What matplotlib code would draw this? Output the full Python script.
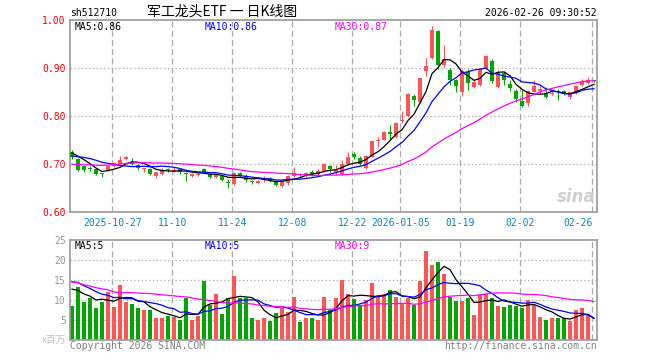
import numpy as np
import pandas as pd
import matplotlib
matplotlib.use('Agg')
import matplotlib.pyplot as plt

# daily candles, 2025-10-16 .. 2026-02-26
open_ = [0.726, 0.710, 0.695, 0.692, 0.689, 0.680, 0.687, 0.696, 0.701, 0.710,
         0.705, 0.697, 0.690, 0.689, 0.674, 0.680, 0.689, 0.686, 0.689, 0.681,
         0.675, 0.677, 0.689, 0.680, 0.672, 0.674, 0.661, 0.658, 0.681, 0.675,
         0.664, 0.660, 0.668, 0.671, 0.665, 0.655, 0.660, 0.675, 0.678, 0.674,
         0.684, 0.679, 0.685, 0.696, 0.684, 0.679, 0.699, 0.721, 0.712, 0.692,
         0.715, 0.748, 0.750, 0.766, 0.756, 0.789, 0.799, 0.842, 0.830, 0.894,
         0.921, 0.978, 0.906, 0.896, 0.874, 0.851, 0.892, 0.861, 0.865, 0.899,
         0.915, 0.860, 0.890, 0.867, 0.853, 0.832, 0.828, 0.851, 0.853, 0.847,
         0.845, 0.851, 0.852, 0.839, 0.847, 0.865, 0.868, 0.875]
high = [0.729, 0.712, 0.697, 0.695, 0.691, 0.682, 0.698, 0.705, 0.717, 0.717,
        0.712, 0.699, 0.692, 0.692, 0.684, 0.692, 0.691, 0.693, 0.691, 0.684,
        0.681, 0.681, 0.692, 0.682, 0.680, 0.677, 0.668, 0.683, 0.684, 0.679,
        0.667, 0.667, 0.675, 0.673, 0.667, 0.667, 0.677, 0.694, 0.681, 0.684,
        0.687, 0.689, 0.703, 0.698, 0.697, 0.709, 0.724, 0.725, 0.716, 0.718,
        0.748, 0.756, 0.768, 0.781, 0.787, 0.810, 0.848, 0.845, 0.880, 0.920,
        0.987, 0.980, 0.947, 0.899, 0.877, 0.898, 0.898, 0.878, 0.899, 0.927,
        0.918, 0.896, 0.893, 0.876, 0.857, 0.855, 0.855, 0.875, 0.862, 0.860,
        0.852, 0.856, 0.855, 0.851, 0.864, 0.877, 0.882, 0.876]
low = [0.710, 0.686, 0.683, 0.686, 0.677, 0.672, 0.685, 0.694, 0.699, 0.708,
       0.697, 0.688, 0.683, 0.677, 0.671, 0.677, 0.684, 0.683, 0.680, 0.665,
       0.673, 0.675, 0.682, 0.671, 0.670, 0.665, 0.650, 0.656, 0.674, 0.662,
       0.658, 0.659, 0.663, 0.662, 0.654, 0.653, 0.657, 0.673, 0.673, 0.672,
       0.676, 0.677, 0.684, 0.683, 0.678, 0.677, 0.698, 0.711, 0.697, 0.690,
       0.714, 0.736, 0.749, 0.753, 0.754, 0.785, 0.797, 0.820, 0.828, 0.883,
       0.918, 0.897, 0.903, 0.865, 0.851, 0.842, 0.854, 0.859, 0.863, 0.897,
       0.868, 0.858, 0.865, 0.852, 0.830, 0.818, 0.820, 0.849, 0.848, 0.837,
       0.843, 0.834, 0.843, 0.835, 0.845, 0.862, 0.866, 0.871]
close = [0.715, 0.687, 0.688, 0.689, 0.679, 0.679, 0.696, 0.703, 0.708, 0.715,
         0.701, 0.691, 0.691, 0.679, 0.683, 0.688, 0.687, 0.688, 0.683, 0.679,
         0.679, 0.679, 0.684, 0.673, 0.678, 0.667, 0.660, 0.681, 0.676, 0.666,
         0.662, 0.665, 0.670, 0.664, 0.656, 0.665, 0.676, 0.682, 0.677, 0.682,
         0.678, 0.686, 0.699, 0.689, 0.688, 0.701, 0.715, 0.715, 0.699, 0.717,
         0.747, 0.750, 0.767, 0.762, 0.786, 0.792, 0.846, 0.833, 0.879, 0.904,
         0.980, 0.907, 0.918, 0.876, 0.862, 0.894, 0.868, 0.871, 0.897, 0.925,
         0.873, 0.889, 0.875, 0.858, 0.835, 0.821, 0.853, 0.862, 0.856, 0.840,
         0.847, 0.849, 0.846, 0.849, 0.862, 0.871, 0.876, 0.872]
# volume, millions
volume = [8.6, 13.3, 9.6, 10.4, 8.1, 9.6, 12.1, 8.3, 13.8, 9.4,
          9.1, 7.9, 7.6, 7.6, 5.6, 5.6, 5.9, 5.7, 4.9, 10.5,
          4.9, 6.1, 14.8, 8.8, 11.4, 6.4, 10.4, 16.0, 10.4, 10.6,
          5.6, 5.1, 5.6, 4.8, 6.7, 7.9, 7.0, 10.8, 4.6, 5.4,
          5.4, 5.1, 10.8, 7.6, 10.5, 15.1, 11.5, 10.2, 8.7, 10.0,
          14.3, 11.2, 11.5, 12.6, 10.8, 9.0, 10.4, 8.8, 14.8, 22.3,
          18.8, 19.6, 16.6, 10.7, 9.8, 9.8, 10.4, 6.3, 11.2, 11.5,
          10.6, 8.6, 8.2, 8.8, 8.6, 8.1, 10.1, 8.8, 5.8, 5.0,
          5.4, 5.6, 5.4, 4.8, 7.6, 8.1, 6.3, 0.3]

# earlier sessions (off-chart), only feed the moving averages
prev_close = [0.705, 0.700, 0.700, 0.695, 0.690,
              0.680, 0.675, 0.670, 0.672, 0.675, 0.680, 0.685, 0.690, 0.695, 0.690,
              0.695, 0.700, 0.705, 0.705, 0.710,
              0.700, 0.705, 0.710, 0.715, 0.720,
              0.720, 0.725, 0.730, 0.725]
prev_volume = [22, 24, 19, 21, 18, 20, 23, 19,
               10, 9, 11, 10, 9, 10, 11, 9, 10, 11, 12, 13,
               15, 18, 17, 16, 16,
               15, 14, 13, 13]

date_idx = [7, 17, 27, 37, 47, 55, 65, 75, 87]
date_labels = ['2025-10-27', '11-10', '11-24', '12-08', '12-22',
               '2026-01-05', '01-19', '02-02', '02-26']
ma_price_text = ['MA5:0.86', 'MA10:0.86', 'MA30:0.87']
ma_vol_text = ['MA5:5', 'MA10:5', 'MA30:9']

RED = '#ff5555'
GREEN = '#00a600'
GRID = '#aaaaaa'
MA_COLORS = ['#000000', '#0000ff', '#ff00ff']
MONO = 'DejaVu Sans Mono'

n = len(close)
x = np.arange(n)
o = np.array(open_)
c = np.array(close)
cols = np.where(c >= o, RED, GREEN)

cs = pd.Series(prev_close + close)
vs = pd.Series(prev_volume + volume)
ma_p = [cs.rolling(w).mean().values[-n:] for w in (5, 10, 30)]
ma_v = [vs.rolling(w).mean().values[-n:] for w in (5, 10, 30)]

fig = plt.figure(figsize=(6.6, 3.6), dpi=100)
ax1 = fig.add_axes([70/660, 1-212/360, 527/660, 192/360])
ax2 = fig.add_axes([70/660, 1-340/360, 527/660, 100/360])

for ax in (ax1, ax2):
    ax.set_xlim(-0.333, 87.5)
    for s in ax.spines.values():
        s.set_color('#a0a0a0')
        s.set_linewidth(1.3)
    for d in date_idx:
        ax.axvline(d - 0.28, color=GRID, lw=0.9, ls=(0, (4.8, 2.6)), zorder=0)
    ax.tick_params(length=0, pad=3)

# price panel
ax1.set_ylim(0.6, 1.0)
for yv in (0.7, 0.8, 0.9):
    ax1.axhline(yv, color=GRID, lw=0.9, ls=(0, (1, 2)), zorder=0)
ax1.vlines(x, low, high, colors=cols, lw=0.8, zorder=2)
ax1.bar(x, np.maximum(np.abs(c - o), 0.0015), 0.8, bottom=np.minimum(o, c),
        color=cols, lw=0, zorder=3)
for m, col in zip(ma_p, MA_COLORS):
    ax1.plot(x, m, color=col, lw=0.9, zorder=4)
ax1.set_yticks([0.6, 0.7, 0.8, 0.9, 1.0])
ax1.set_yticklabels(['%.2f' % v for v in [0.6, 0.7, 0.8, 0.9, 1.0]],
                    color='#ff0000', family=MONO, fontsize=7)
ax1.set_xticks([d - 0.28 for d in date_idx])
ax1.set_xticklabels(date_labels, color='#0a84c8', family=MONO, fontsize=7)
ax1.tick_params(axis='x', pad=4)
ax1.get_xticklabels()[-1].set_ha('right')
for t, col, px in zip(ma_price_text, MA_COLORS, (75, 205, 335)):
    fig.text(px/660, 1-27/360, t, color=col, family=MONO, fontsize=7, va='center')
ax1.text(0.998, 0.03, 'sina', transform=ax1.transAxes, ha='right', va='bottom',
         fontsize=12, style='italic', fontweight='bold', color='#cfcfcf', zorder=1)

# volume panel
ax2.set_ylim(0, 25)
for yv in (5, 10, 15, 20):
    ax2.axhline(yv, color=GRID, lw=0.9, ls=(0, (1, 2)), zorder=0)
ax2.bar(x, volume, 0.8, color=cols, lw=0, zorder=2)
for m, col in zip(ma_v, MA_COLORS):
    ax2.plot(x, m, color=col, lw=0.9, zorder=4)
ax2.set_yticks([5, 10, 15, 20, 25])
ax2.set_yticklabels(['5', '10', '15', '20', '25'], color='#999999',
                    family=MONO, fontsize=7)
ax2.set_xticks([])
for t, col, px in zip(ma_vol_text, MA_COLORS, (75, 205, 335)):
    fig.text(px/660, 1-246/360, t, color=col, family=MONO, fontsize=7, va='center')

# header / footer
fig.text(70/660, 1-13/360, 'sh512710', family=MONO, fontsize=7, va='center')
fig.text(222/660, 1-12/360, '军工龙头ETF 一 日K线图', family=['Noto Sans CJK SC', 'DejaVu Sans'],
         fontsize=10, ha='center', va='center')
fig.text(597/660, 1-13/360, '2026-02-26 09:30:52', family=MONO, fontsize=7,
         ha='right', va='center')
fig.text(66/660, 1-340/360, 'x百万', family=['Noto Sans CJK SC', 'DejaVu Sans'],
         fontsize=7, color='#c0c0c0', ha='right', va='center')
fig.text(70/660, 1-346/360, 'Copyright 2026 SINA.COM', family=MONO, fontsize=7,
         color='#808080', va='center')
fig.text(597/660, 1-346/360, 'http://finance.sina.com.cn', family=MONO, fontsize=7,
         color='#808080', ha='right', va='center')

fig.savefig('out.png', dpi=100)
